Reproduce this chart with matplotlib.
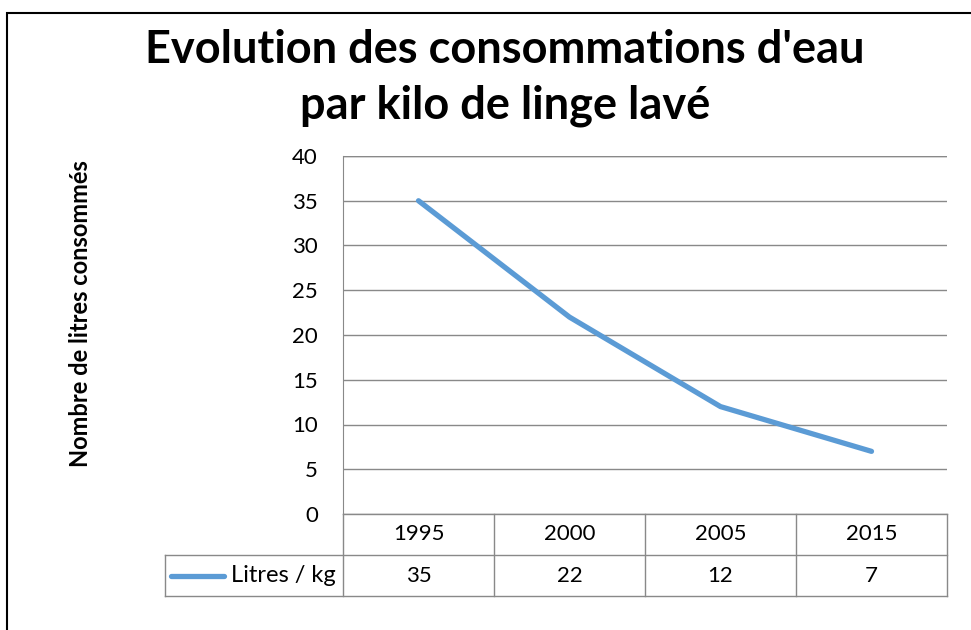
import matplotlib
matplotlib.use("Agg")
import matplotlib.pyplot as plt
from matplotlib import transforms
from matplotlib.patches import Rectangle

plt.rcParams['font.family'] = ['Lato', 'DejaVu Sans']

# data
years = ["1995", "2000", "2005", "2015"]
litres = [35, 22, 12, 7]
series_name = "Litres / kg"
title = "Evolution des consommations d'eau\npar kilo de linge lavé"
ylabel = "Nombre de litres consommés"
yticks = [0, 5, 10, 15, 20, 25, 30, 35, 40]

W, H = 971, 630
line_col = '#5B9BD5'
grid_col = '#898989'
fs = 16

fig = plt.figure(figsize=(W / 100, H / 100), dpi=100)

# outer chart border (runs off right/bottom like the screenshot)
fig.patches.append(Rectangle((7 / W, -0.05), 1.1, 1 - 13 / H + 0.05,
                             transform=fig.transFigure, fill=False,
                             edgecolor='black', lw=1.5))

left, right, top, bottom = 343, 947, 156, 514
ax = fig.add_axes([left / W, 1 - bottom / H, (right - left) / W, (bottom - top) / H])

x = list(range(len(years)))
ax.plot(x, litres, color=line_col, lw=3.8, solid_capstyle='round',
        solid_joinstyle='round', zorder=3)
ax.set_xlim(-0.5, len(years) - 0.5)
ax.set_ylim(0, 40)
ax.set_yticks(yticks)
ax.set_xticks([])
ax.tick_params(axis='y', length=0, pad=18, labelsize=fs)
ax.grid(axis='y', color=grid_col, lw=1)
ax.set_axisbelow(True)
for s in ['right', 'top', 'bottom']:
    ax.spines[s].set_visible(False)
ax.spines['left'].set_color(grid_col)
ax.axhline(40, color=grid_col, lw=1)

# data table under the plot
tr = transforms.blended_transform_factory(ax.transData, ax.transAxes)
ph = bottom - top
r1 = -(555 - bottom) / ph
r2 = -(596 - bottom) / ph
x_leg = -0.5 - (left - 165) / ((right - left) / len(years))
n = len(years)
kw = dict(color=grid_col, lw=1, transform=tr, clip_on=False)
ax.plot([-0.5, n - 0.5], [0, 0], **kw)
ax.plot([x_leg, n - 0.5], [r1, r1], **kw)
ax.plot([x_leg, n - 0.5], [r2, r2], **kw)
ax.plot([x_leg, x_leg], [r1, r2], **kw)
for i in range(n + 1):
    ax.plot([i - 0.5, i - 0.5], [0, r2], **kw)
for i, (yr, v) in enumerate(zip(years, litres)):
    ax.text(i, r1 / 2, yr, transform=tr, ha='center', va='center', fontsize=fs)
    ax.text(i, (r1 + r2) / 2, str(v), transform=tr, ha='center', va='center', fontsize=fs)
ax.text(-0.5 - 0.045, (r1 + r2) / 2, series_name, transform=tr, ha='right',
        va='center', fontsize=fs + 1)
ax.plot([x_leg + 0.04, x_leg + 0.39], [(r1 + r2) / 2] * 2, color=line_col, lw=3.8,
        solid_capstyle='round', transform=tr, clip_on=False)

fig.text(505 / W, 1 - 78 / H, title, ha='center', va='center', fontsize=32.5,
         fontweight='bold', linespacing=1.4)
fig.text(80 / W, 1 - 314 / H, ylabel, ha='center', va='center', rotation=90,
         fontsize=17, fontweight='bold')

fig.savefig('out.png', dpi=100)
